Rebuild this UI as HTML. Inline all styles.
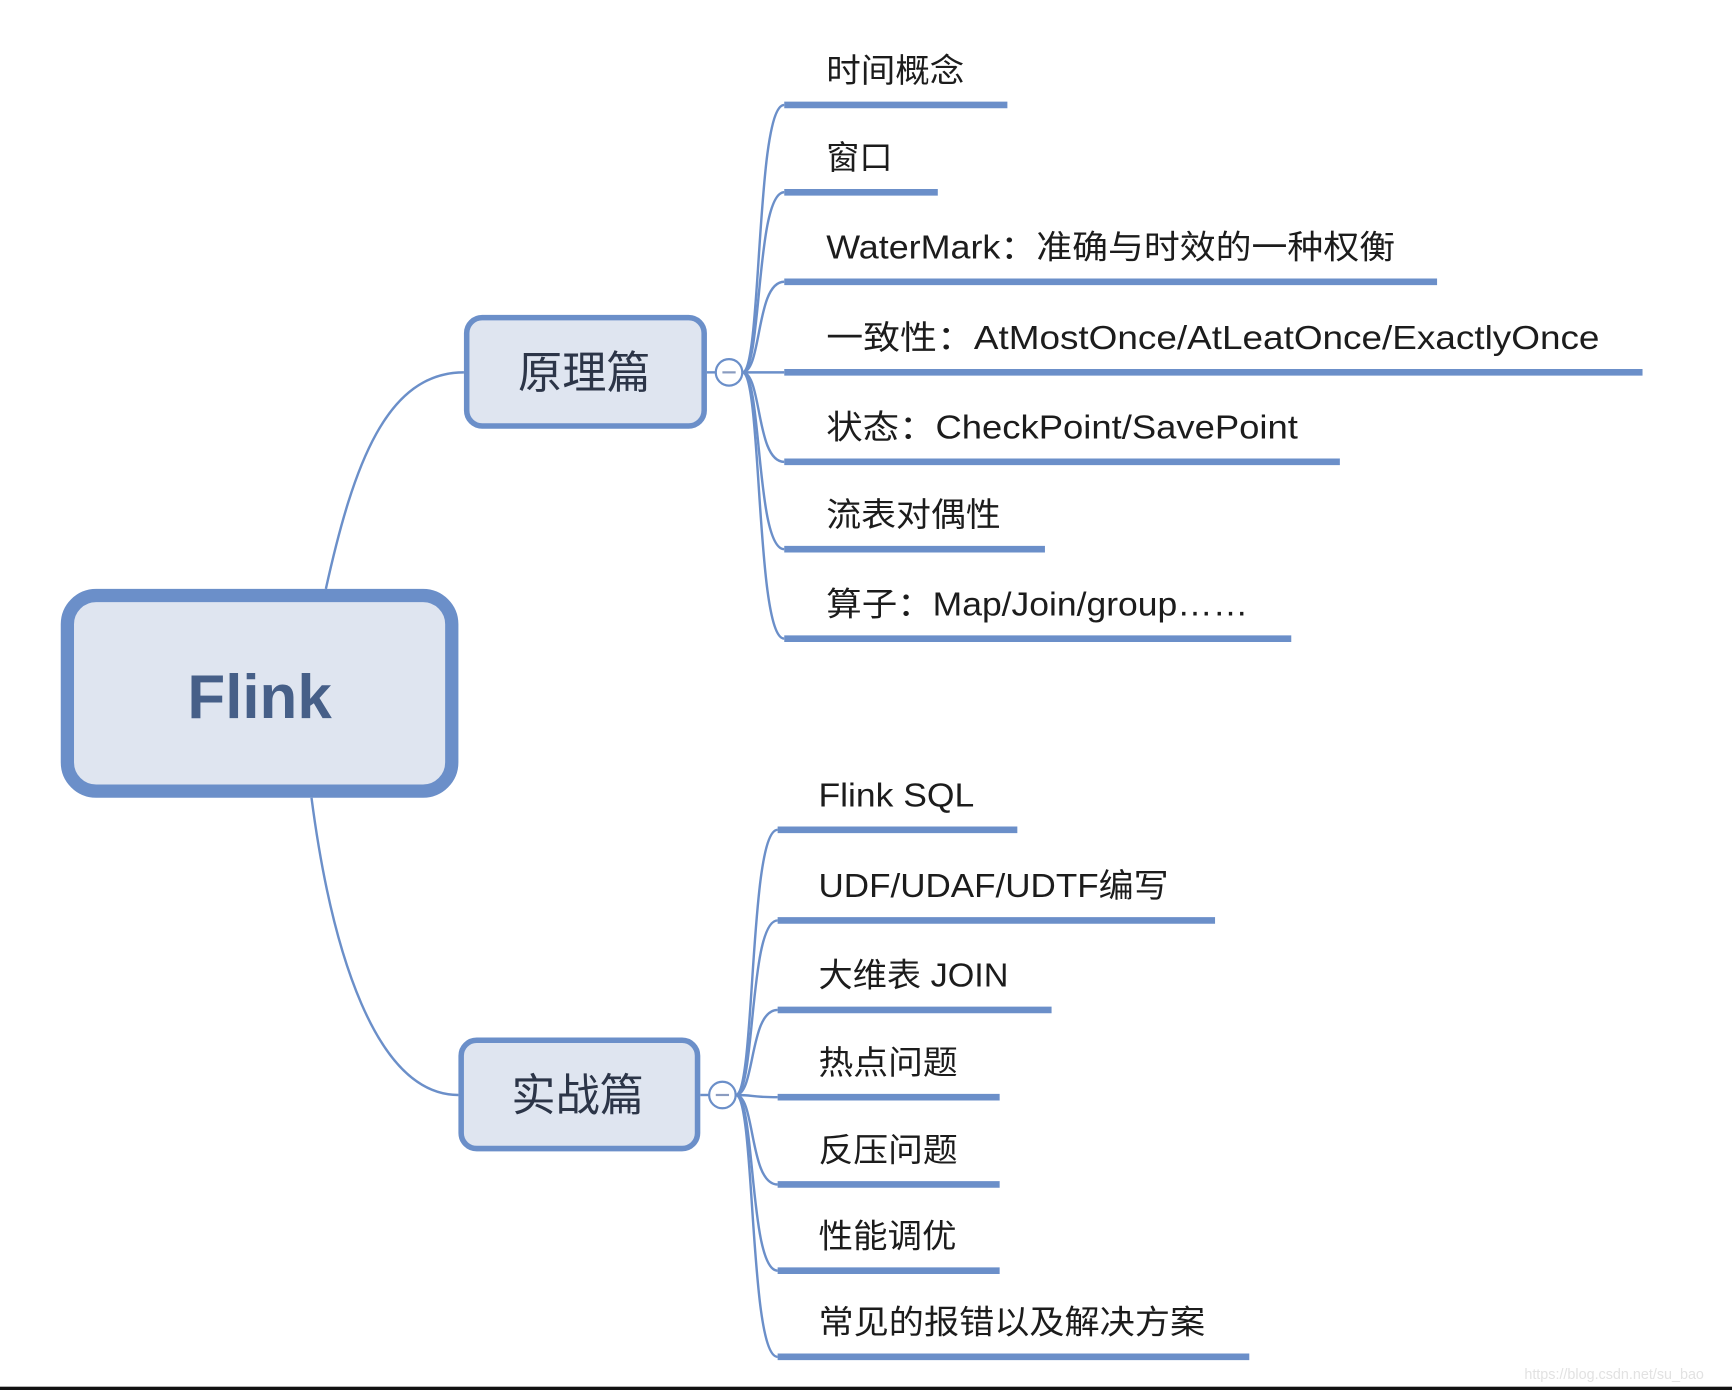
<!DOCTYPE html>
<html><head><meta charset="utf-8"><style>
html,body{margin:0;padding:0;background:#fff;width:1732px;height:1390px;overflow:hidden}
svg{display:block}
text{font-family:"Liberation Sans","Noto Sans CJK SC",sans-serif;fill:#1c1c1c}
</style></head><body>
<svg width="1732" height="1390" viewBox="0 0 1568 1258" preserveAspectRatio="none">
<g fill="none" stroke="#6b8fc9" stroke-width="2.2">
<path d="M295 533 C 320 420, 350 337, 420 337"/>
<path d="M282 722 C 300 860, 340 991, 415 991"/>
<path d="M672 337 C 690 337,684 95,710 95"/>
<path d="M672 337 C 690 337,684 174,710 174"/>
<path d="M672 337 C 690 337,684 255,710 255"/>
<path d="M672 337 L 710 337"/>
<path d="M672 337 C 690 337,684 418,710 418"/>
<path d="M672 337 C 690 337,684 497,710 497"/>
<path d="M672 337 C 690 337,684 578,710 578"/>
<path d="M666 991 C 684 991,678 751,704 751"/>
<path d="M666 991 C 684 991,678 833,704 833"/>
<path d="M666 991 C 684 991,678 914,704 914"/>
<path d="M666 991 C 684 991,678 993,704 993"/>
<path d="M666 991 C 684 991,678 1072,704 1072"/>
<path d="M666 991 C 684 991,678 1150,704 1150"/>
<path d="M666 991 C 684 991,678 1228,704 1228"/>
<path d="M640 337 L648 337"/><path d="M634 991 L642 991"/>
</g>
<g stroke="#6b8fc9" stroke-width="6" fill="none">
<line x1="710" y1="95" x2="912" y2="95"/>
<line x1="710" y1="174" x2="849" y2="174"/>
<line x1="710" y1="255" x2="1301" y2="255"/>
<line x1="710" y1="337" x2="1487" y2="337"/>
<line x1="710" y1="418" x2="1213" y2="418"/>
<line x1="710" y1="497" x2="946" y2="497"/>
<line x1="710" y1="578" x2="1169" y2="578"/>
<line x1="704" y1="751" x2="921" y2="751"/>
<line x1="704" y1="833" x2="1100" y2="833"/>
<line x1="704" y1="914" x2="952" y2="914"/>
<line x1="704" y1="993" x2="905" y2="993"/>
<line x1="704" y1="1072" x2="905" y2="1072"/>
<line x1="704" y1="1150" x2="905" y2="1150"/>
<line x1="704" y1="1228" x2="1131" y2="1228"/>
</g>
<rect x="61" y="539" width="348" height="177" rx="26" fill="#dfe5f0" stroke="#6b8fc9" stroke-width="12"/>
<text x="235" y="650" text-anchor="middle" font-size="56" font-weight="bold" style="fill:#465f88">Flink</text>
<rect x="422.5" y="287.5" width="215" height="98" rx="14" fill="#dfe5f0" stroke="#6b8fc9" stroke-width="5"/>
<text x="529" y="351" text-anchor="middle" font-size="40" style="fill:#2c3548">原理篇</text>
<rect x="417.5" y="941.5" width="214" height="98" rx="14" fill="#dfe5f0" stroke="#6b8fc9" stroke-width="5"/>
<text x="523" y="1005" text-anchor="middle" font-size="40" style="fill:#2c3548">实战篇</text>
<g fill="#fff" stroke="#6b8fc9" stroke-width="2">
<circle cx="660" cy="337" r="12"/><circle cx="654" cy="991" r="12"/>
</g>
<g stroke="#8a9cc0" stroke-width="2"><line x1="654" y1="337" x2="666" y2="337"/><line x1="648" y1="991" x2="660" y2="991"/></g>
<g font-size="30">
<text x="748" y="74" textLength="125" lengthAdjust="spacingAndGlyphs">时间概念</text>
<text x="748" y="153" textLength="60" lengthAdjust="spacingAndGlyphs">窗口</text>
<text x="748" y="234" textLength="515" lengthAdjust="spacingAndGlyphs">WaterMark：准确与时效的一种权衡</text>
<text x="748" y="316" textLength="700" lengthAdjust="spacingAndGlyphs">一致性：AtMostOnce/AtLeatOnce/ExactlyOnce</text>
<text x="748" y="397" textLength="427" lengthAdjust="spacingAndGlyphs">状态：CheckPoint/SavePoint</text>
<text x="748" y="476" textLength="158" lengthAdjust="spacingAndGlyphs">流表对偶性</text>
<text x="748" y="557" textLength="382" lengthAdjust="spacingAndGlyphs">算子：Map/Join/group……</text>
<text x="741" y="730" textLength="141" lengthAdjust="spacingAndGlyphs">Flink SQL</text>
<text x="741" y="812" textLength="317" lengthAdjust="spacingAndGlyphs">UDF/UDAF/UDTF编写</text>
<text x="741" y="893" textLength="172" lengthAdjust="spacingAndGlyphs">大维表 JOIN</text>
<text x="741" y="972" textLength="126" lengthAdjust="spacingAndGlyphs">热点问题</text>
<text x="741" y="1051" textLength="126" lengthAdjust="spacingAndGlyphs">反压问题</text>
<text x="741" y="1129" textLength="125" lengthAdjust="spacingAndGlyphs">性能调优</text>
<text x="741" y="1207" textLength="350" lengthAdjust="spacingAndGlyphs">常见的报错以及解决方案</text>
</g>
<text x="1380" y="1248" font-size="13" style="fill:#e2e2e2">https://blog.csdn.net/su_bao</text>
<rect x="0" y="1255" width="1568" height="3" fill="#111"/>
</svg>
</body></html>
